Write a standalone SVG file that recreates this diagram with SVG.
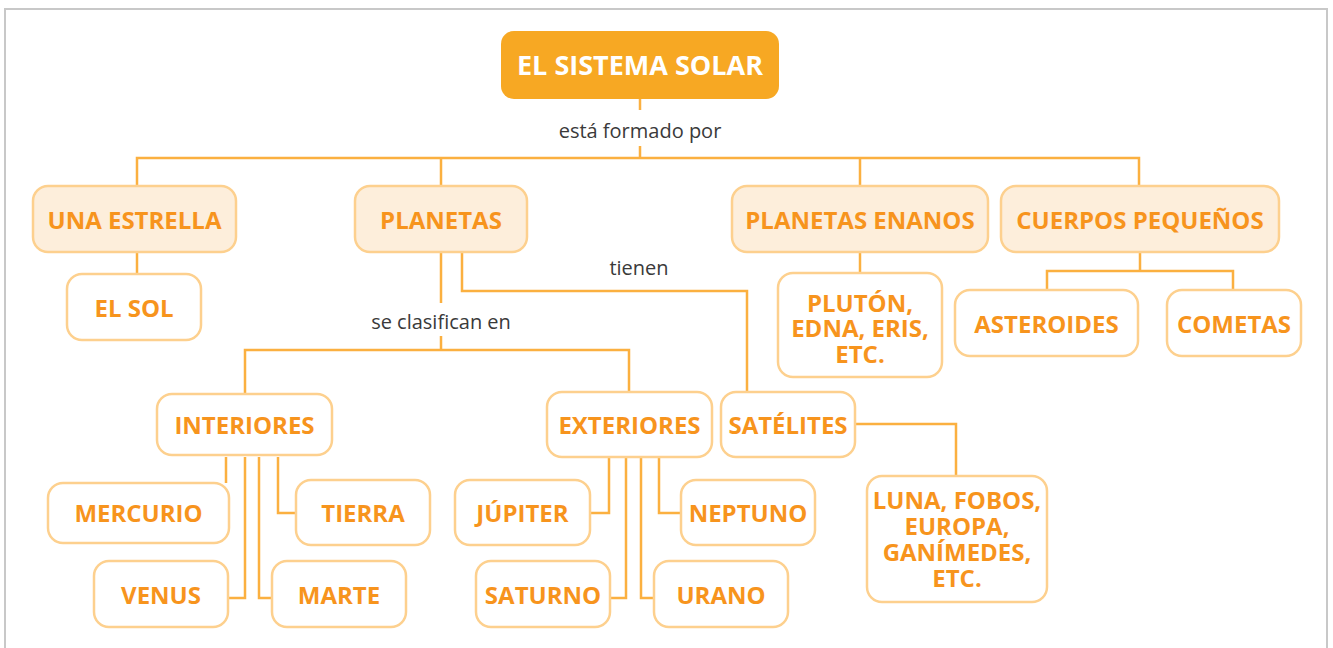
<svg xmlns="http://www.w3.org/2000/svg" width="1333" height="648" viewBox="0 0 1333 648">
<style>
.frame{fill:#fff;stroke:#c8c8c8;stroke-width:2}
.root{fill:#f7a823}
.rt{fill:#fff;font-family:"Open Sans","Liberation Sans",sans-serif;font-weight:700;font-size:27px;text-anchor:middle}
.n1{fill:#fdeedb;stroke:#fdd08e;stroke-width:2.5}
.n2{fill:#fff;stroke:#fdd08e;stroke-width:2.5}
.t{fill:#f7941d;font-family:"Open Sans","Liberation Sans",sans-serif;font-weight:700;font-size:24px;text-anchor:middle}
.lbl{fill:#3a3a3a;font-family:"Open Sans","Liberation Sans",sans-serif;font-size:20px;text-anchor:middle}
.c{fill:none;stroke:#fbb040;stroke-width:2.5}
</style>
<rect class="frame" x="5" y="9" width="1322" height="660"/>
<g id="connectors">
<path class="c" d="M640 99V110M640 146V158M137 186V158H1139V186M441 158V186M860 158V186"/>
<path class="c" d="M137 252V274"/>
<path class="c" d="M441 252V303M441 336V350M245 394V350H629V392"/>
<path class="c" d="M462 252V291H747V392"/>
<path class="c" d="M860 252V273"/>
<path class="c" d="M1140 252V271M1047 290V271H1233V290"/>
<path class="c" d="M226 457V483M245 457V598H228M259 457V598H272M278 457V513H296"/>
<path class="c" d="M609 457V513H590M626 457V598H610M641 457V598H654M659 457V513H681"/>
<path class="c" d="M855 424H956V476"/>
</g>
<g id="labels">
<text class="lbl" x="640" y="138">está formado por</text>
<text class="lbl" x="441" y="329">se clasifican en</text>
<text class="lbl" x="639" y="275">tienen</text>
</g>
<g id="root"><rect class="root" x="501" y="31" width="278" height="68" rx="13"/><text class="rt" x="640" y="75">EL SISTEMA SOLAR</text></g>
<g id="una-estrella"><rect class="n1" x="33" y="186" width="203" height="66" rx="15"/><text class="t" x="134.5" y="229">UNA ESTRELLA</text></g>
<g id="planetas"><rect class="n1" x="355" y="186" width="172" height="66" rx="15"/><text class="t" x="441" y="229">PLANETAS</text></g>
<g id="planetas-enanos"><rect class="n1" x="732" y="186" width="256" height="66" rx="15"/><text class="t" x="860" y="229">PLANETAS ENANOS</text></g>
<g id="cuerpos-pequenos"><rect class="n1" x="1001" y="186" width="278" height="66" rx="15"/><text class="t" x="1140" y="229">CUERPOS PEQUEÑOS</text></g>
<g id="el-sol"><rect class="n2" x="67" y="274" width="134" height="66" rx="15"/><text class="t" x="134" y="317">EL SOL</text></g>
<g id="pluton"><rect class="n2" x="778" y="273" width="164" height="104" rx="15"/><text class="t" x="860" y="312"><tspan x="860" y="312">PLUTÓN,</tspan><tspan x="860" y="337">EDNA, ERIS,</tspan><tspan x="860" y="363">ETC.</tspan></text></g>
<g id="asteroides"><rect class="n2" x="955" y="290" width="183" height="66" rx="15"/><text class="t" x="1046.5" y="333">ASTEROIDES</text></g>
<g id="cometas"><rect class="n2" x="1167" y="290" width="134" height="66" rx="15"/><text class="t" x="1234" y="333">COMETAS</text></g>
<g id="interiores"><rect class="n2" x="157" y="394" width="175" height="61" rx="15"/><text class="t" x="244.5" y="434">INTERIORES</text></g>
<g id="exteriores"><rect class="n2" x="547" y="392" width="165" height="65" rx="15"/><text class="t" x="629.5" y="434">EXTERIORES</text></g>
<g id="satelites"><rect class="n2" x="721" y="392" width="134" height="65" rx="15"/><text class="t" x="788" y="434">SATÉLITES</text></g>
<g id="mercurio"><rect class="n2" x="48" y="483" width="181" height="60" rx="15"/><text class="t" x="138.5" y="522">MERCURIO</text></g>
<g id="tierra"><rect class="n2" x="296" y="480" width="134" height="65" rx="15"/><text class="t" x="363" y="522">TIERRA</text></g>
<g id="venus"><rect class="n2" x="94" y="561" width="134" height="66" rx="15"/><text class="t" x="161" y="604">VENUS</text></g>
<g id="marte"><rect class="n2" x="272" y="561" width="134" height="66" rx="15"/><text class="t" x="339" y="604">MARTE</text></g>
<g id="jupiter"><rect class="n2" x="455" y="480" width="135" height="65" rx="15"/><text class="t" x="522.5" y="522">JÚPITER</text></g>
<g id="saturno"><rect class="n2" x="476" y="561" width="134" height="66" rx="15"/><text class="t" x="543" y="604">SATURNO</text></g>
<g id="urano"><rect class="n2" x="654" y="561" width="134" height="66" rx="15"/><text class="t" x="721" y="604">URANO</text></g>
<g id="neptuno"><rect class="n2" x="681" y="480" width="134" height="65" rx="15"/><text class="t" x="748" y="522">NEPTUNO</text></g>
<g id="luna"><rect class="n2" x="867" y="476" width="180" height="126" rx="15"/><text class="t" x="957" y="509"><tspan x="957" y="509">LUNA, FOBOS,</tspan><tspan x="957" y="535">EUROPA,</tspan><tspan x="957" y="561">GANÍMEDES,</tspan><tspan x="957" y="587">ETC.</tspan></text></g>
</svg>
